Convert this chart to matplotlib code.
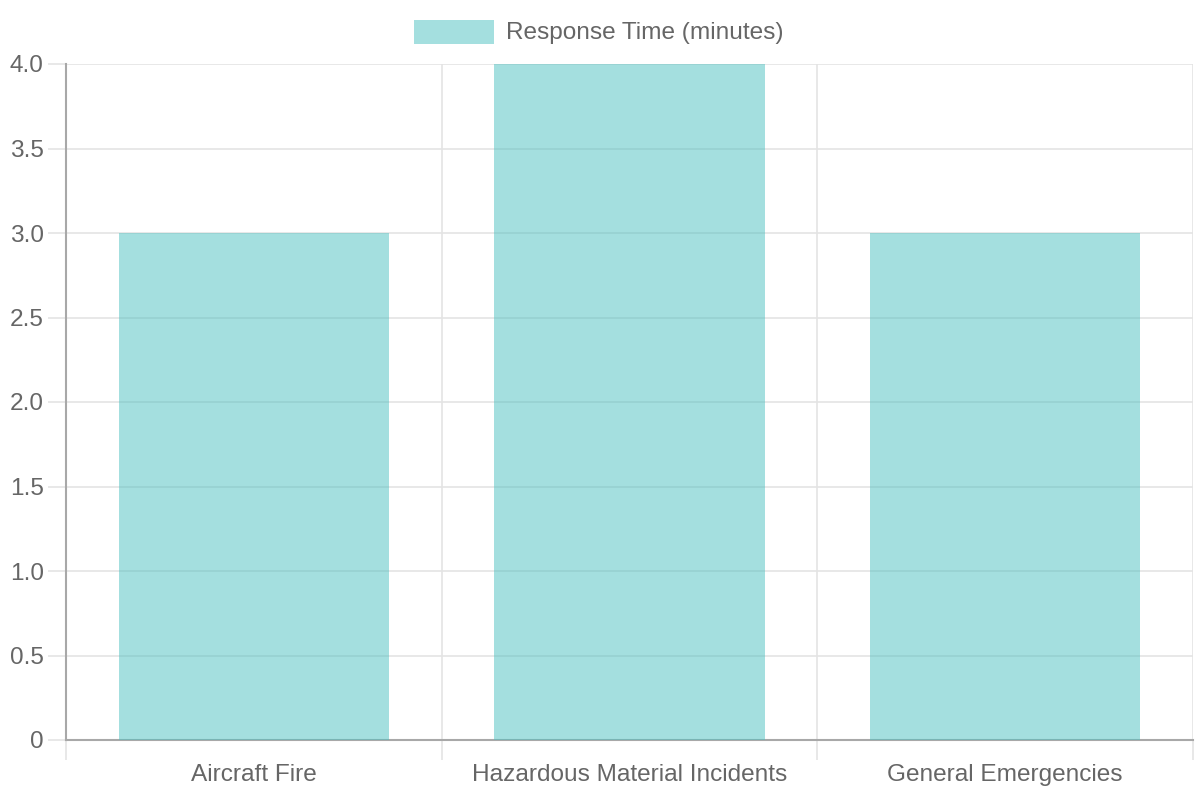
import matplotlib
matplotlib.use("Agg")
import matplotlib.pyplot as plt
from matplotlib.patches import Rectangle

categories = ["Aircraft Fire", "Hazardous Material Incidents", "General Emergencies"]
response_time = [3, 4, 3]
series_label = "Response Time (minutes)"
yticks = [0, 0.5, 1.0, 1.5, 2.0, 2.5, 3.0, 3.5, 4.0]
ytick_labels = ["0", "0.5", "1.0", "1.5", "2.0", "2.5", "3.0", "3.5", "4.0"]

plt.rcParams['font.family'] = ['Liberation Sans', 'DejaVu Sans']

fig = plt.figure(figsize=(12, 8), dpi=100)
ax = fig.add_axes([66/1200, 60/800, (1193-66)/1200, (740-64)/800])

bar_color = (75/255, 192/255, 192/255, 0.5)
x = list(range(len(categories)))
ax.bar(x, response_time, width=0.72, color=bar_color, zorder=3)

ax.set_xlim(-0.5, len(categories) - 0.5)
ax.set_ylim(0, 4.0)
ax.set_yticks(yticks)
ax.set_yticklabels(ytick_labels)
ax.set_xticks(x)
ax.set_xticklabels(categories)
ax.set_xticks([i - 0.5 for i in range(len(categories) + 1)], minor=True)

grid_c = "#e4e4e4"
ax.grid(axis='y', which='major', color=grid_c, linewidth=1.2, zorder=0)
ax.grid(axis='x', which='minor', color=grid_c, linewidth=1.2, zorder=0)
ax.set_axisbelow(True)

fs = 17.6
ax.tick_params(axis='x', which='major', length=0, pad=17, labelsize=fs, labelcolor='#666666')
ax.tick_params(axis='x', which='minor', length=14.4, width=1.2, color=grid_c)
ax.tick_params(axis='y', which='major', length=13, width=1.2, color=grid_c, pad=3,
               labelsize=fs, labelcolor='#666666')

for s in ['top', 'right']:
    ax.spines[s].set_visible(False)
for s in ['left', 'bottom']:
    ax.spines[s].set_color('#a8a8a8')
    ax.spines[s].set_linewidth(1.5)

# legend
fig.patches.append(Rectangle((414/1200, 1 - 44/800), 80/1200, 24/800,
                             transform=fig.transFigure, facecolor=bar_color,
                             edgecolor='none'))
fig.text(506/1200, 1 - 33/800, series_label, fontsize=fs, color='#666666',
         va='center', ha='left')

fig.savefig("out.png", dpi=100)
